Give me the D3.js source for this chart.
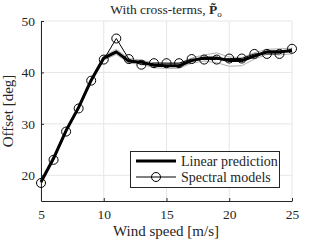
<!DOCTYPE html>
<html><head><meta charset="utf-8">
<script src="https://cdn.jsdelivr.net/npm/d3@7"></script>
<style>body{margin:0;background:#fff}svg{display:block}text{font-family:"Liberation Serif","DejaVu Serif",serif;fill:#262626}</style>
</head><body><svg id="c" width="322" height="242"></svg>
<script>
const windSpeed = [5,6,7,8,9,10,11,12,13,14,15,16,17,18,19,20,21,22,23,24,25];
const spectral = [18.5,23.0,28.5,33.0,38.4,42.5,46.6,42.6,41.5,41.8,41.8,41.8,42.6,42.5,42.5,42.7,42.7,43.6,43.6,43.6,44.6];
const linear   = [18.7,23.3,28.7,33.2,38.5,42.8,44.0,42.2,42.0,41.4,41.3,41.3,42.3,42.8,42.8,42.3,42.3,43.2,44.0,44.0,44.2];
const upperBand= [19.0,23.6,29.0,33.5,38.9,43.2,44.5,42.7,42.4,41.9,41.8,41.8,42.8,43.4,43.8,43.0,42.9,43.8,44.5,44.6,44.7];
const lowerBand= [18.4,23.0,28.4,32.9,38.1,42.4,43.5,41.8,41.6,40.9,40.8,40.8,41.8,42.2,41.9,41.2,41.3,42.6,43.5,43.4,43.6];
const xTicks = [5,10,15,20,25];
const yTicks = [20,30,40,50];

const svg = d3.select("#c");
const L=41, R=292, T=21, B=201;
const x = d3.scaleLinear().domain([5,25]).range([L,R]);
const y = d3.scaleLinear().domain([15,50]).range([B,T]);

// grid
svg.append("g").selectAll("line").data(xTicks).join("line")
  .attr("x1",d=>x(d)).attr("x2",d=>x(d)).attr("y1",T).attr("y2",B)
  .attr("stroke","#e6e6e6").attr("stroke-width",1);
svg.append("g").selectAll("line").data(yTicks).join("line")
  .attr("x1",L).attr("x2",R).attr("y1",d=>y(d)).attr("y2",d=>y(d))
  .attr("stroke","#e6e6e6").attr("stroke-width",1);

// axes
const xa = svg.append("g").attr("transform",`translate(0,${B})`)
  .call(d3.axisBottom(x).tickValues(xTicks).tickSizeInner(-3).tickSizeOuter(0).tickPadding(8));
const ya = svg.append("g").attr("transform",`translate(${L},0)`)
  .call(d3.axisLeft(y).tickValues(yTicks).tickSizeInner(-3).tickSizeOuter(0).tickPadding(6));
[xa,ya].forEach(a=>{
  a.select(".domain").attr("stroke","#262626").attr("stroke-width",1);
  a.selectAll(".tick line").attr("stroke","#262626");
  a.selectAll(".tick text").style("font-size","13.5px").attr("fill","#262626");
});

const line = d3.line().x((d,i)=>x(windSpeed[i])).y(d=>y(d));
const g = svg.append("g");
[upperBand,lowerBand].forEach(arr=>{
  g.append("path").datum(arr).attr("d",line).attr("fill","none")
   .attr("stroke","#b0b0b0").attr("stroke-width",1);
});
g.append("path").datum(linear).attr("d",line).attr("fill","none")
  .attr("stroke","#000").attr("stroke-width",3).attr("stroke-linejoin","round");
g.append("path").datum(spectral).attr("d",line).attr("fill","none")
  .attr("stroke","#000").attr("stroke-width",1);
g.selectAll("circle").data(spectral).join("circle")
  .attr("cx",(d,i)=>x(windSpeed[i])).attr("cy",d=>y(d)).attr("r",4.5)
  .attr("fill","none").attr("stroke","#000").attr("stroke-width",1);

// title
const t = svg.append("text").attr("x",166).attr("y",14).attr("text-anchor","middle").style("font-size","13.5px");
t.append("tspan").text("With cross-terms, ");
t.append("tspan").attr("font-weight","bold").text("P\u0303");
t.append("tspan").attr("dy",3).style("font-size","9px").text("o");

// axis labels
svg.append("text").attr("x",166).attr("y",236).attr("text-anchor","middle").style("font-size","15px").text("Wind speed [m/s]");
svg.append("text").attr("transform","translate(13,111) rotate(-90)").attr("text-anchor","middle").style("font-size","15px").text("Offset [deg]");

// legend
const lg = svg.append("g");
lg.append("rect").attr("x",130.5).attr("y",151.5).attr("width",149).attr("height",36)
  .attr("fill","#fff").attr("stroke","#262626").attr("stroke-width",1);
lg.append("line").attr("x1",136).attr("x2",176).attr("y1",161).attr("y2",161).attr("stroke","#000").attr("stroke-width",3);
lg.append("line").attr("x1",136).attr("x2",176).attr("y1",177).attr("y2",177).attr("stroke","#000").attr("stroke-width",1);
lg.append("circle").attr("cx",156).attr("cy",177).attr("r",4.5).attr("fill","none").attr("stroke","#000");
lg.append("text").attr("x",181).attr("y",165.5).style("font-size","14px").text("Linear prediction");
lg.append("text").attr("x",181).attr("y",182).style("font-size","14px").text("Spectral models");
</script></body></html>
